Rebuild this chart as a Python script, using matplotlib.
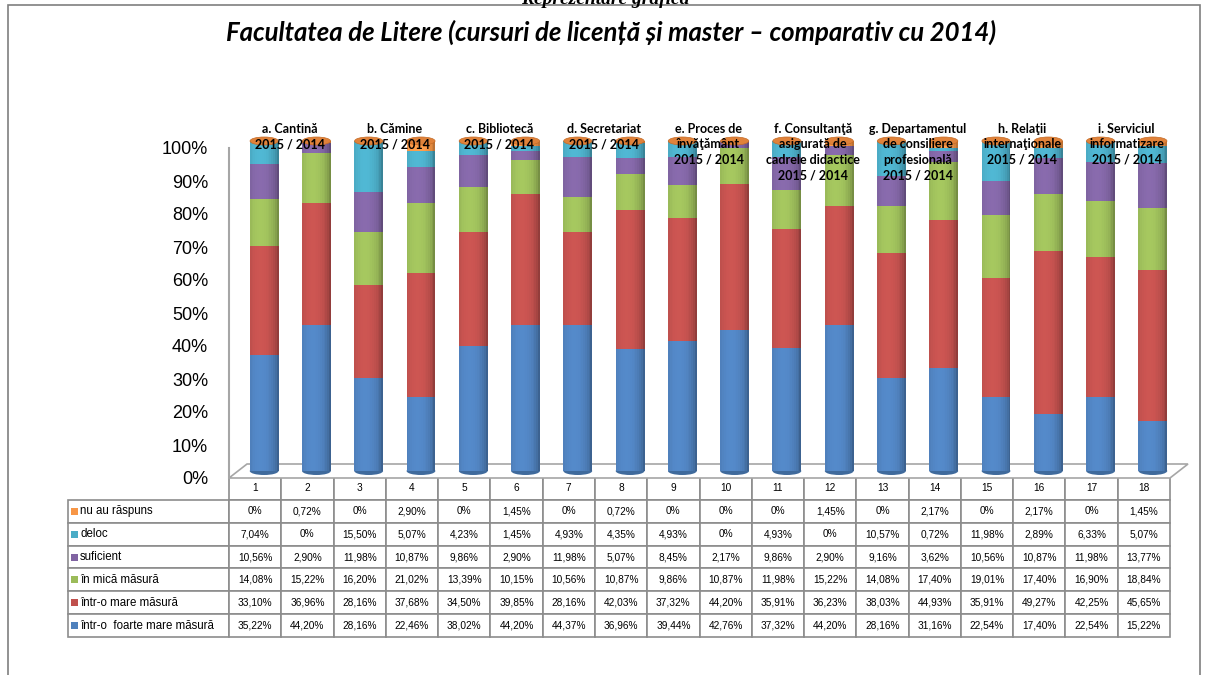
# grafic_facultatea_litere.py
# Grafic cu bare cilindrice 100% stivuite + tabel de date sub axe

import numpy as np
import matplotlib.pyplot as plt
from matplotlib.patches import Rectangle, Ellipse, Polygon

# ---- DATE ----
coloane = [str(i) for i in range(1, 19)]
serii = ['nu au răspuns', 'deloc', 'suficient', 'în mică măsură',
         'într-o mare măsură', 'într-o  foarte mare măsură']
nu_au = [0, 0.72, 0, 2.90, 0, 1.45, 0, 0.72, 0, 0, 0, 1.45, 0, 2.17, 0, 2.17, 0, 1.45]
deloc = [7.04, 0, 15.50, 5.07, 4.23, 1.45, 4.93, 4.35, 4.93, 0, 4.93, 0,
         10.57, 0.72, 11.98, 2.89, 6.33, 5.07]
suficient = [10.56, 2.90, 11.98, 10.87, 9.86, 2.90, 11.98, 5.07, 8.45, 2.17, 9.86, 2.90,
             9.16, 3.62, 10.56, 10.87, 11.98, 13.77]
mica = [14.08, 15.22, 16.20, 21.02, 13.39, 10.15, 10.56, 10.87, 9.86, 10.87, 11.98, 15.22,
        14.08, 17.40, 19.01, 17.40, 16.90, 18.84]
mare = [33.10, 36.96, 28.16, 37.68, 34.50, 39.85, 28.16, 42.03, 37.32, 44.20, 35.91, 36.23,
        38.03, 44.93, 35.91, 49.27, 42.25, 45.65]
foarte = [35.22, 44.20, 28.16, 22.46, 38.02, 44.20, 44.37, 36.96, 39.44, 42.76, 37.32, 44.20,
          28.16, 31.16, 22.54, 17.40, 22.54, 15.22]
categorii = ['a. Cantină\n2015 / 2014', 'b. Cămine\n2015 / 2014',
             'c. Bibliotecă\n2015 / 2014', 'd. Secretariat\n2015 / 2014',
             'e. Proces de\nînvăţământ\n2015 / 2014',
             'f. Consultanţă\nasigurată de\ncadrele didactice\n2015 / 2014',
             'g. Departamentul\nde consiliere\nprofesională\n2015 / 2014',
             'h. Relaţii\ninternaţionale\n2015 / 2014',
             'i. Serviciul\ninformatizare\n2015 / 2014']

valori_tabel = [nu_au, deloc, suficient, mica, mare, foarte]
# ordinea de stivuire (de jos in sus)
stiva = [foarte, mare, mica, suficient, deloc, nu_au]
culori_stiva = ['#4F81BD', '#C0504D', '#9BBB59', '#8064A2', '#4BACC6', '#F79646']
culori_tabel = culori_stiva[::-1]

W, H = 1210, 675
fig = plt.figure(figsize=(W / 100, H / 100), dpi=100)

# axe: 0% la y=478px, 100% la y=148px, coloanele tabelului intre x=229 si x=1170
x0, x1, y0, y1 = 229, 1170, 478, 148
ax = fig.add_axes([x0 / W, (H - y0) / H, (x1 - x0) / W, (y0 - y1) / H])
n = len(coloane)
ax.set_xlim(-0.5, n - 0.5)
ax.set_ylim(0, 1)
px_x = (n) / (x1 - x0)       # unitati de date pe pixel (x)
px_y = 1 / (y0 - y1)          # unitati de date pe pixel (y)

# podeaua 3D
ddx, ddy = 18 * px_x, 14 * px_y
ax.add_patch(Polygon([(-0.5, 0), (n - 0.5, 0), (n - 0.5 + ddx, ddy), (-0.5 + ddx, ddy)],
                     closed=True, facecolor='white', edgecolor='#a6a6a6', lw=1.2,
                     clip_on=False, zorder=1))

# bare cilindrice (benzi verticale cu umbrire)
x = np.arange(n)
bw = 0.55
nstrip = 16
offs = (np.arange(nstrip) + 0.5) / nstrip - 0.5
t = offs * 2
umbra = 0.62 + 0.45 * np.sqrt(np.clip(1 - ((t + 0.25) / 1.25) ** 2, 0, 1))
bx = x + ddx / 2
bottom = np.full(n, ddy / 2)
for vals, c in zip(stiva, culori_stiva):
    v = np.array(vals) / 100
    base = np.array(plt.matplotlib.colors.to_rgb(c))
    for o, f in zip(offs, umbra):
        col = np.clip(base * f, 0, 1)
        ax.bar(bx + o * bw, v, width=bw / nstrip + 0.002, bottom=bottom,
               color=col, lw=0, zorder=3, clip_on=False)
    bottom = bottom + v

# capace eliptice
eh = 8 * px_y
for xi in bx:
    ax.add_patch(Ellipse((xi, ddy / 2), bw, eh, facecolor='#3f6a9c', lw=0, zorder=2,
                         clip_on=False))
    ax.add_patch(Ellipse((xi, 1 + ddy / 2), bw * 0.98, eh, facecolor='#e0823a',
                         edgecolor='#c46a25', lw=0.5, zorder=4, clip_on=False))

# axa Y
ax.set_yticks(np.arange(0, 1.01, 0.1))
ax.set_yticklabels([f'{int(round(v * 100))}%' for v in np.arange(0, 1.01, 0.1)],
                   fontsize=13, family='Liberation Sans')
ax.tick_params(axis='y', length=0, pad=15)
ax.set_xticks([])
for s in ['top', 'right', 'bottom']:
    ax.spines[s].set_visible(False)
ax.spines['left'].set_color('#a6a6a6')
ax.spines['left'].set_linewidth(1.5)
ax.set_facecolor('none')

# etichete categorii
for k, lab in enumerate(categorii):
    xc = 2 * k + 0.5 + ddx / 2
    ax.text(xc, 1 + 25 * px_y, lab, ha='center', va='top', fontsize=9,
            fontweight='bold', family=['Lato', 'DejaVu Sans'], linespacing=1.35,
            zorder=6, clip_on=False)

# ---- TABEL ----
def fmt(v):
    return '0%' if v == 0 else f'{v:.2f}'.replace('.', ',') + '%'

celule = [[lab] + [fmt(v) for v in vals] for lab, vals in zip(serii, valori_tabel)]
lx = 68
lw_col = (x0 - lx) / (x1 - lx)
cw = (1 - lw_col) / n
tab = ax.table(cellText=celule, colLabels=[''] + coloane,
               colWidths=[lw_col] + [cw] * n, cellLoc='center',
               bbox=[(lx - x0) / (x1 - x0), -(637 - y0) / (y0 - y1),
                     (x1 - lx) / (x1 - x0), (637 - 477) / (y0 - y1)])
tab.auto_set_font_size(False)
for (r, c), cell in tab.get_celld().items():
    cell.set_edgecolor('#8c8c8c')
    cell.set_linewidth(1.2)
    cell.get_text().set_fontsize(7.3)
    cell.get_text().set_family('Liberation Sans')
    if r == 0 and c == 0:
        cell.set_visible(False)
    if r > 0 and c == 0:
        cell._loc = 'left'
        cell.PAD = 0.075
        cell.get_text().set_ha('left')
        cell.get_text().set_fontsize(8.3)

# patrate colorate in legenda tabelului
row_h = (637 - 477) / 7
for i, c in enumerate(culori_tabel):
    yc = 477 + row_h * (i + 1.5)
    ax.add_patch(Rectangle(((71 - x0) * px_x - 0.5, (y0 - yc - 3.5) * px_y),
                           7 * px_x, 7 * px_y, facecolor=c, lw=0,
                           clip_on=False, zorder=10))

# ---- TITLURI SI CHENAR ----
fig.text(0.5, 1 + 1 / H, 'Reprezentare grafică', ha='center', va='center',
         fontsize=14, fontweight='bold', style='italic', family='Liberation Serif')
fig.text(0.505, 1 - 32 / H, 'Facultatea de Litere (cursuri de licență și master – comparativ cu 2014)',
         ha='center', va='center', fontsize=18.5, fontweight='bold', style='italic',
         family=['Lato', 'DejaVu Sans'])
fig.add_artist(Rectangle((8 / W, -0.01), (1200 - 8) / W, 1 - 5 / H + 0.01,
                         transform=fig.transFigure, fill=False,
                         edgecolor='#7f7f7f', lw=1.2))

fig.savefig('out.png', dpi=100)
